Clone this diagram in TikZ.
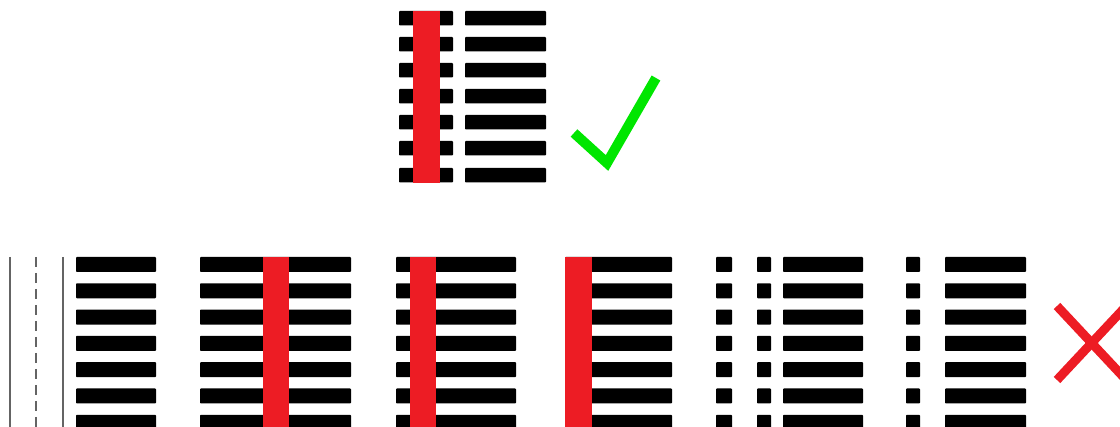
\documentclass[tikz,border=0pt]{standalone}
\begin{document}
\begin{tikzpicture}[x=1pt,y=-1pt,
  bar/.style={fill=black,rounded corners=0.8pt},
  redbar/.style={fill={rgb,255:red,237;green,28;blue,36}},
  rail/.style={draw={rgb,255:red,100;green,100;blue,100},line width=1.3pt}]
\useasboundingbox (0,0) rectangle (1120,427);
\clip (0,0) rectangle (1120,427);
% ---------- top (correct) ----------
\foreach \y in {11,37,63,89,115,141,168}{
  \fill[bar] (399,\y) rectangle (453,\y+14.5);
  \fill[bar] (465,\y) rectangle (546,\y+14.5);
}
\fill[redbar] (413,11) rectangle (440,183);
\draw[draw={rgb,255:red,0;green,230;blue,0},line width=10pt,line join=miter]
  (574,133) -- (607,163) -- (656,78);
% ---------- bottom row ----------
\draw[rail] (10,257) -- (10,427);
\draw[rail,dash pattern=on 10pt off 6pt] (36,257) -- (36,427);
\draw[rail] (63,257) -- (63,427);
\foreach \y in {257,283.3,309.6,335.9,362.2,388.5,414.8}{
  \fill[bar] (76,\y) rectangle (156,\y+15);
  \fill[bar] (200,\y) rectangle (351,\y+15);
  \fill[bar] (396,\y) rectangle (516,\y+15);
  \fill[bar] (565,\y) rectangle (672,\y+15);
  \fill[bar] (716,\y) rectangle (732,\y+15);
  \fill[bar] (757,\y) rectangle (771,\y+15);
  \fill[bar] (783,\y) rectangle (863,\y+15);
  \fill[bar] (906,\y) rectangle (920,\y+15);
  \fill[bar] (945,\y) rectangle (1026,\y+15);
}
\fill[redbar] (263,257) rectangle (289,427);
\fill[redbar] (410,257) rectangle (436,427);
\fill[redbar] (565,257) rectangle (592,427);
\draw[draw={rgb,255:red,237;green,28;blue,36},line width=9pt]
  (1057,306) -- (1130,384)
  (1057,380) -- (1130,302);
\end{tikzpicture}
\end{document}
